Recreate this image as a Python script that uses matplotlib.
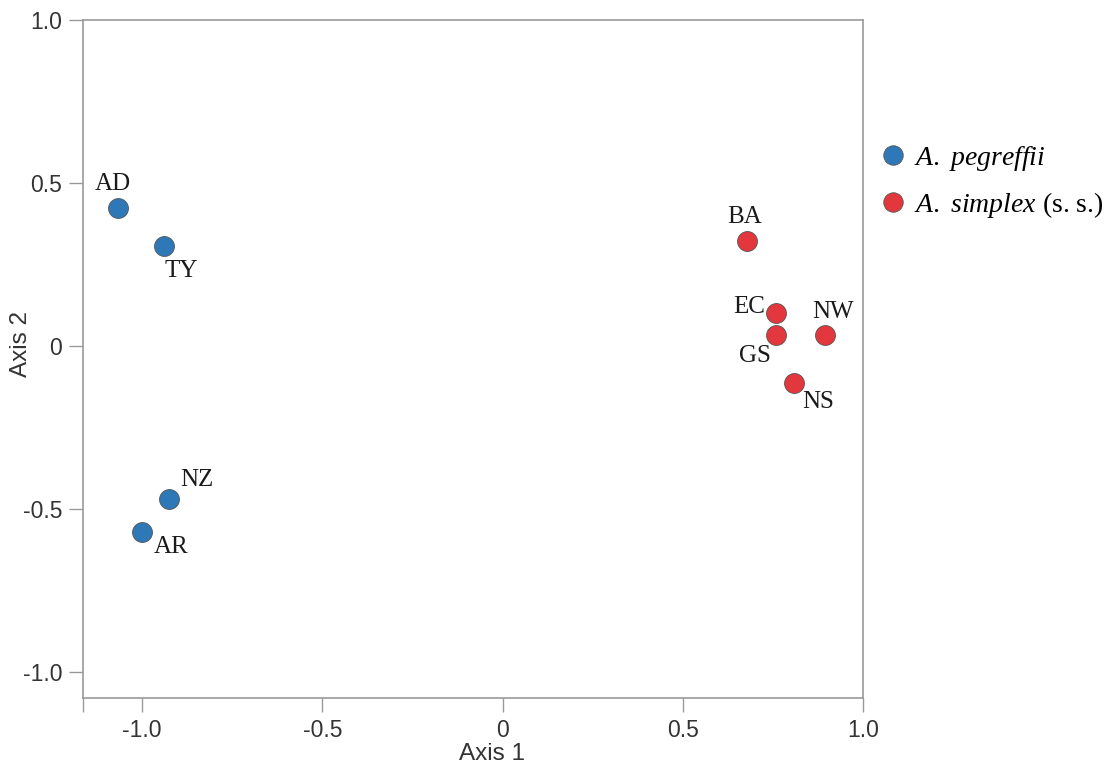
import matplotlib.pyplot as plt
from matplotlib.lines import Line2D

plt.rcParams['font.family'] = ['Liberation Sans', 'DejaVu Sans']
plt.rcParams['mathtext.fontset'] = 'custom'
plt.rcParams['mathtext.it'] = 'Liberation Serif:italic'
plt.rcParams['mathtext.rm'] = 'Liberation Serif'

# Sample sites and their coordinates on axis 1 / axis 2
sites = ["AD", "TY", "NZ", "AR", "BA", "EC", "GS", "NW", "NS"]
axis1 = [-1.068, -0.940, -0.926, -1.000, 0.678, 0.758, 0.758, 0.894, 0.808]
axis2 = [0.424, 0.306, -0.469, -0.572, 0.322, 0.102, 0.035, 0.035, -0.113]
species = [0, 0, 0, 0, 1, 1, 1, 1, 1]
species_names = [r"$\it{A.}$ $\it{pegreffii}$", r"$\it{A.}$ $\it{simplex}$ (s. s.)"]

# label offsets in pixels (dx, dy) relative to the point
offsets = [(-5, 24), (17, -25), (28, 19), (29, -15), (-2, 24),
           (-27, 6), (-21, -21), (8, 23), (24, -19)]

colors = ["#2f78b7", "#e2373d"]

fig = plt.figure(figsize=(11.19, 7.66), dpi=100)
ax = fig.add_axes([0.0742, 0.0888, 0.697, 0.885])

for i in range(len(sites)):
    ax.scatter(axis1[i], axis2[i], s=205, color=colors[species[i]],
               edgecolor="#555555", linewidth=0.6, zorder=3)
    dx, dy = offsets[i]
    ax.annotate(sites[i], (axis1[i], axis2[i]),
                xytext=(dx * 0.72, dy * 0.72), textcoords="offset points",
                ha="center", va="center", fontsize=18,
                family="Liberation Serif", color="#1a1a1a")

ax.set_xlim(-1.164, 1.0)
ax.set_ylim(-1.08, 1.0)
ax.set_xticks([-1.0, -0.5, 0, 0.5, 1.0])
ax.set_xticklabels(["-1.0", "-0.5", "0", "0.5", "1.0"])
ax.set_yticks([-1.0, -0.5, 0, 0.5, 1.0])
ax.set_yticklabels(["-1.0", "-0.5", "0", "0.5", "1.0"])
ax.set_xticks([-1.164], minor=True)

for sp in ax.spines.values():
    sp.set_color("#9a9a9a")
    sp.set_linewidth(1.2)
ax.tick_params(axis="both", which="both", direction="out", length=10,
               width=1.0, color="#9a9a9a", labelsize=16.5,
               labelcolor="#333333", pad=5)

ax.set_xlabel("Axis 1", fontsize=17.5, color="#333333")
ax.set_ylabel("Axis 2", fontsize=17.5, color="#333333")
ax.xaxis.set_label_coords(0.524, -0.066)
ax.yaxis.set_label_coords(-0.066, 0.522)

handles = [Line2D([], [], marker="o", linestyle="", markersize=14,
                  markerfacecolor=c, markeredgecolor="#555555",
                  markeredgewidth=0.6) for c in colors]
fig.legend(handles, species_names, loc="upper left",
           bbox_to_anchor=(0.777, 0.827), frameon=False,
           prop={"family": "Liberation Serif", "size": 20},
           handlelength=0.9, handletextpad=0.3, labelspacing=0.62,
           borderaxespad=0)

fig.savefig("out.png", dpi=100)
